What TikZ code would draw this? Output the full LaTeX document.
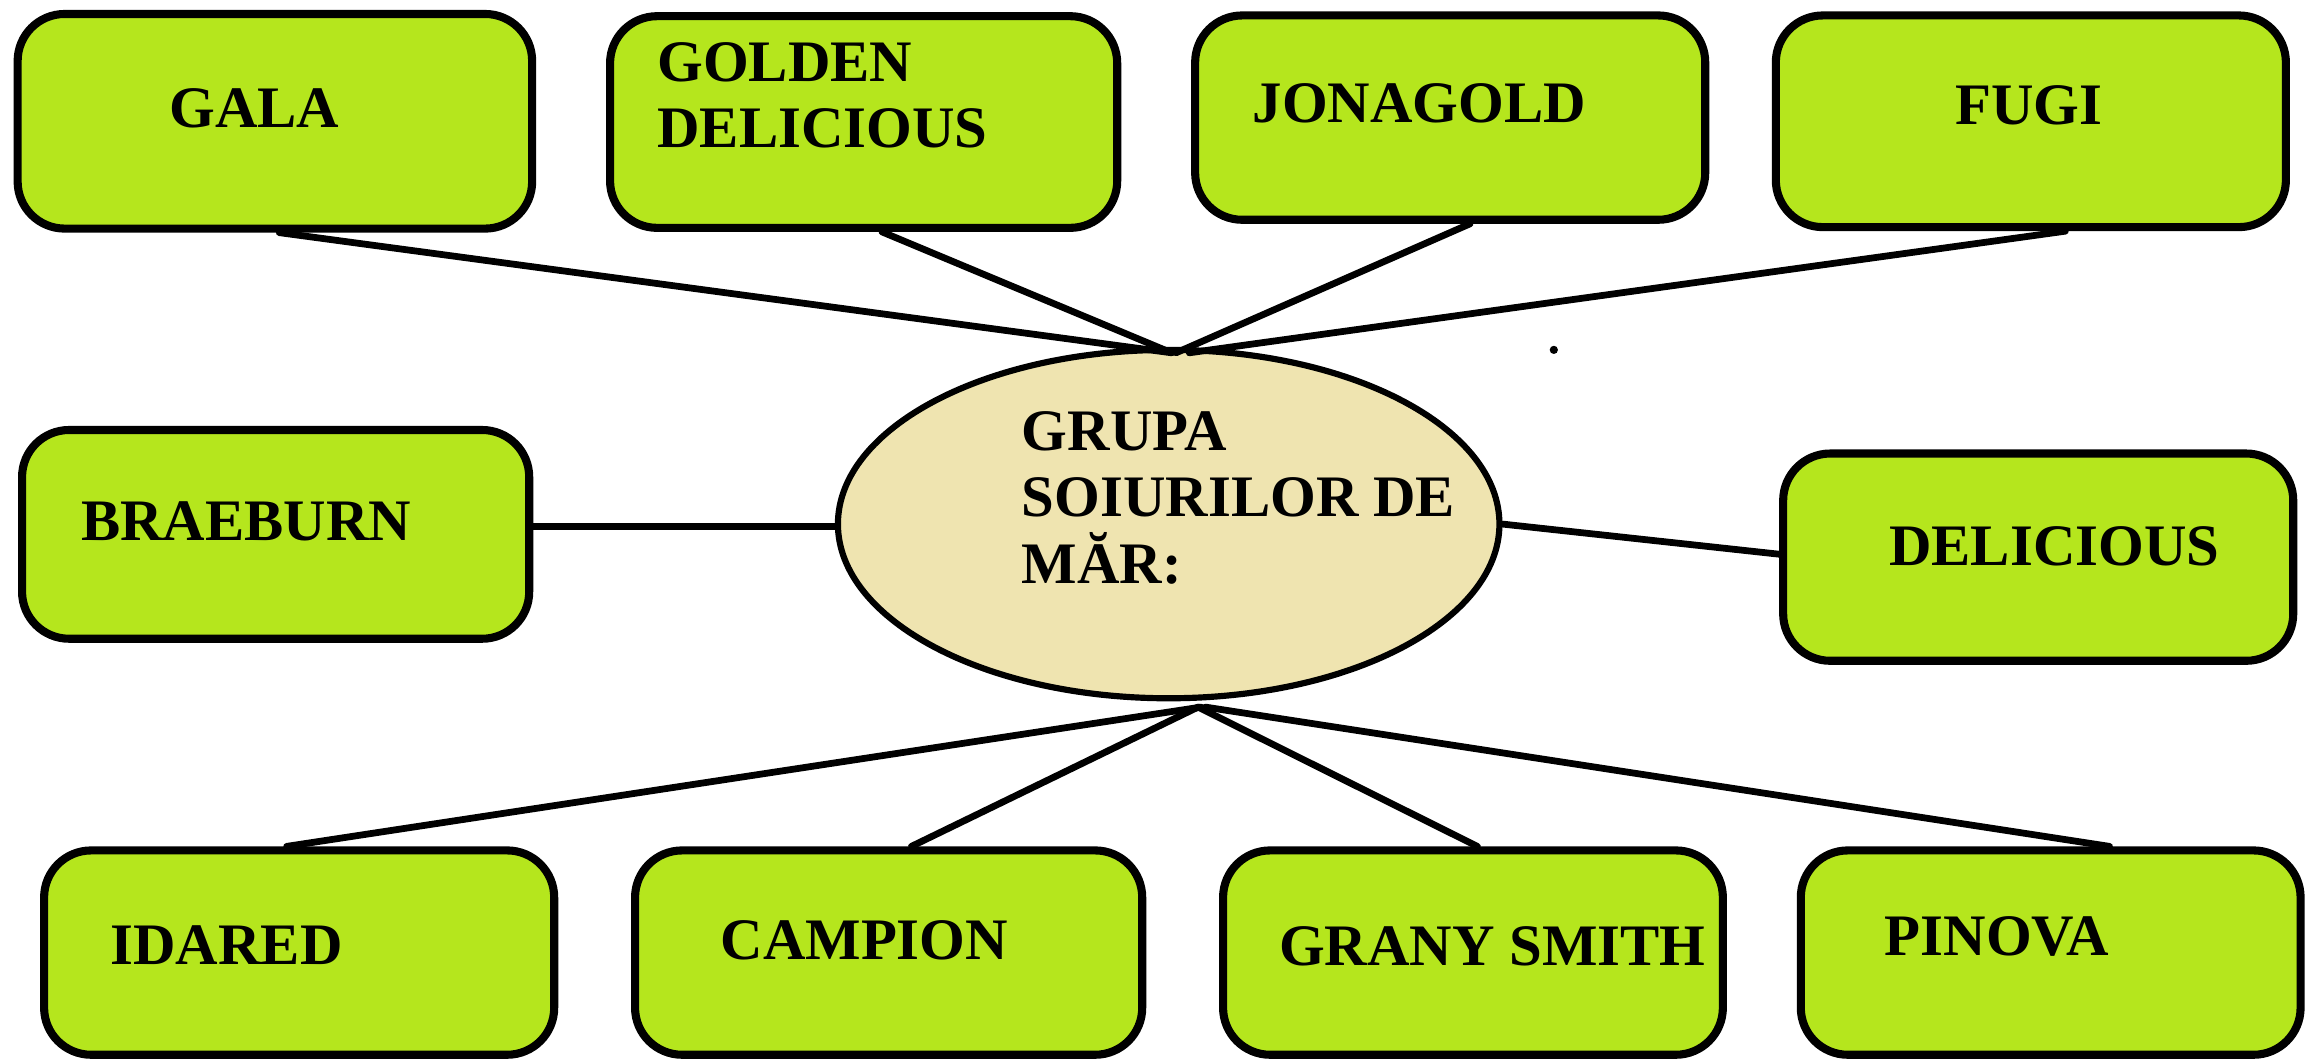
\documentclass[tikz,border=0pt]{standalone}
\usepackage{fontspec}
\setmainfont{Liberation Serif}
\usetikzlibrary{shapes.geometric,calc}
\definecolor{boxgreen}{HTML}{B5E61D}
\definecolor{ellbeige}{HTML}{EFE4B0}
\tikzset{
  variety/.style={draw=black, fill=boxgreen, line width=5.5pt, rounded corners=32pt, minimum width=347pt, minimum height=143pt, inner sep=0pt},
  hub/.style={ellipse, draw=black, fill=ellbeige, line width=4.2pt, minimum width=450pt, minimum height=237pt, inner sep=0pt},
  lbl/.style={font=\bfseries\fontsize{40}{45}\selectfont, inner sep=0pt, anchor=base west, text=black},
  mlbl/.style={font=\bfseries\fontsize{40}{45}\selectfont, inner sep=0pt, anchor=north west, align=left, text=black},
  link/.style={draw=black, line width=4.6pt, line cap=round}
}
\begin{document}
\begin{tikzpicture}[x=1pt,y=-1pt]
\useasboundingbox (0,0) rectangle (1568,721);
\coordinate (topjoin) at (797,240);
\coordinate (botjoin) at (817,481);
% boxes
\node[variety, minimum width=350pt, minimum height=146pt] (gala) at (187,82.5) {};
\node[variety, minimum width=345pt, minimum height=144pt] (golden) at (587.5,83) {};
\node[variety, minimum width=347pt, minimum height=139pt] (jonagold) at (986.5,80) {};
\node[variety, minimum width=347pt, minimum height=144pt] (fugi) at (1381.5,82.5) {};
\node[variety, minimum width=345pt, minimum height=142pt] (braeburn) at (187.5,363.5) {};
\node[variety, minimum width=347pt, minimum height=141pt] (delicious) at (1386.5,379) {};
\node[variety, minimum width=347pt, minimum height=139pt] (idared) at (203.5,648) {};
\node[variety, minimum width=345pt, minimum height=139pt] (campion) at (604.5,648) {};
\node[variety, minimum width=340pt, minimum height=139pt] (grany) at (1002,648) {};
\node[variety, minimum width=340pt, minimum height=139pt] (pinova) at (1395,648) {};
\node[hub] (hub) at (795,356.5) {};
% links
\draw[link] ([xshift=3pt]gala.south) -- (topjoin);
\draw[link] ([xshift=12.5pt]golden.south) -- (topjoin);
\draw[link] ([xshift=13.5pt]jonagold.south) -- ([xshift=3pt]topjoin);
\draw[link] ([xshift=23.5pt]fugi.south) -- ([xshift=12pt]topjoin);
\draw[link] ([yshift=5.5pt]braeburn.east) -- ([yshift=-1.5pt]hub.west);
\draw[link] (hub.east) -- ([yshift=2pt]delicious.west);
\draw[link] ([xshift=-8.5pt]idared.north) -- (botjoin);
\draw[link] ([xshift=15.5pt]campion.north) -- ([xshift=-2pt]botjoin);
\draw[link] ([xshift=3pt]grany.north) -- ([xshift=-2pt]botjoin);
\draw[link] ([xshift=40pt]pinova.north) -- ([xshift=3pt]botjoin);
% stray dot
\fill[black] (1057,238) circle (2.8pt);
% labels
\node[lbl] (tgala) at (115,87) {GALA};
\node[mlbl] (tgolden) at (447,28.5) {GOLDEN\\DELICIOUS};
\node[lbl] (tjonagold) at (852,83) {JONAGOLD};
\node[lbl] (tfugi) at (1330,85) {FUGI};
\node[lbl] (tbraeburn) at (55,368) {BRAEBURN};
\node[lbl] (tdelicious) at (1285,385) {DELICIOUS};
\node[lbl] (tidared) at (75,656) {IDARED};
\node[lbl] (tcampion) at (490,653) {CAMPION};
\node[lbl] (tgrany) at (870,657) {GRANY SMITH};
\node[lbl] (tpinova) at (1282,650) {PINOVA};
\node[mlbl] (thub) at (695,280) {GRUPA\\SOIURILOR DE\\MĂR:};
\end{tikzpicture}
\end{document}
